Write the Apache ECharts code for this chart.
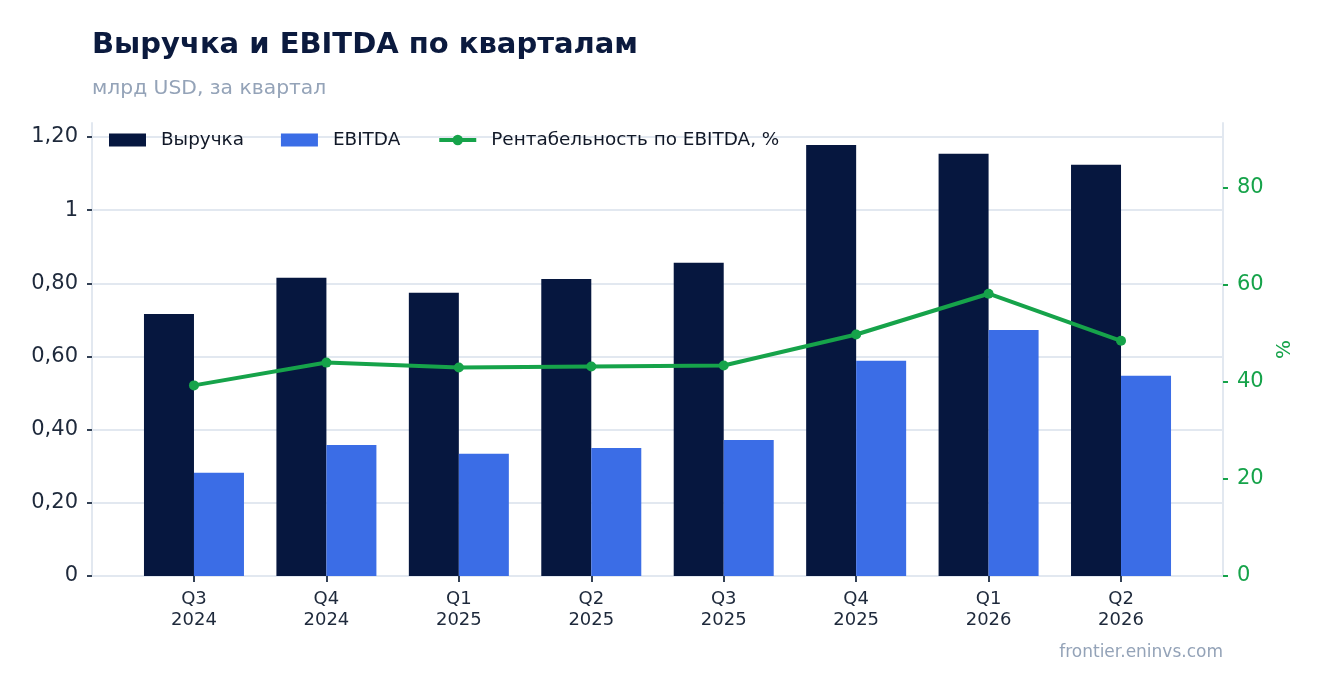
<!DOCTYPE html>
<html>
<head>
<meta charset="utf-8">
<script src="https://cdn.jsdelivr.net/npm/echarts@6/dist/echarts.min.js"></script>
<style>
html,body{margin:0;padding:0;background:#ffffff;}
#chart{width:1323px;height:693px;}
</style>
</head>
<body>
<div id="chart"></div>
<script>
const categories = ['Q3\n2024','Q4\n2024','Q1\n2025','Q2\n2025','Q3\n2025','Q4\n2025','Q1\n2026','Q2\n2026'];
const revenue = [0.716, 0.815, 0.774, 0.812, 0.856, 1.178, 1.154, 1.124];
const ebitda = [0.282, 0.358, 0.334, 0.350, 0.372, 0.588, 0.672, 0.547];
const margin = [39.3, 44.0, 43.0, 43.2, 43.4, 49.8, 58.2, 48.5];
const leftTicks = [0, 0.2, 0.4, 0.6, 0.8, 1, 1.2];
const leftTickLabels = ['0', '0,20', '0,40', '0,60', '0,80', '1', '1,20'];
const rightTicks = [0, 20, 40, 60, 80];
const catIdx = categories.map((c, i) => i);

const FONT = 'DejaVu Sans';
const GRID = '#e2e8f0';
const TXT = '#1e293b';
const GREEN = '#16a34a';

const chart = echarts.init(document.getElementById('chart'), null, {renderer: 'canvas'});
chart.setOption({
  backgroundColor: '#ffffff',
  textStyle: {fontFamily: FONT},
  title: [
    {text: 'Выручка и EBITDA по кварталам', left: 87, top: 26,
     textStyle: {fontFamily: FONT, fontSize: 29, fontWeight: 'bold', color: '#0b1a3e'}},
    {text: 'млрд USD, за квартал', left: 87, top: 74,
     textStyle: {fontFamily: FONT, fontSize: 20.3, fontWeight: 'normal', color: '#94a3b8'}}
  ],
  legend: {
    left: 104, top: 126, itemWidth: 37, itemHeight: 13, itemGap: 37,
    textStyle: {fontFamily: FONT, fontSize: 18.4, color: '#111827', padding: [0, 0, 0, 10]},
    data: [
      {name: 'Выручка', icon: 'rect'},
      {name: 'EBITDA', icon: 'rect'},
      {name: 'Рентабельность по EBITDA, %', lineStyle: {width: 4}}
    ]
  },
  grid: {left: 92, right: 100, top: 123, bottom: 117, containLabel: false},
  xAxis: {
    type: 'value', min: -0.77, max: 7.77,
    axisLine: {show: true, onZero: false, lineStyle: {color: GRID, width: 2}},
    axisTick: {show: true, customValues: catIdx, length: 6, lineStyle: {color: '#334155', width: 2}},
    axisLabel: {customValues: catIdx, margin: 13, fontFamily: FONT, fontSize: 18, color: TXT, lineHeight: 21,
      formatter: v => categories[Math.round(v)]},
    splitLine: {show: false}
  },
  yAxis: [
    {type: 'value', min: 0, max: 1.238, position: 'left',
     axisLine: {show: true, onZero: false, lineStyle: {color: GRID, width: 2}},
     axisTick: {show: true, customValues: leftTicks, length: 5, lineStyle: {color: '#334155', width: 2}},
     axisLabel: {customValues: leftTicks, margin: 14, fontFamily: FONT, fontSize: 21, color: TXT, padding: [5, 0, 0, 0],
       formatter: v => { const k = leftTicks.findIndex(t => Math.abs(t - v) < 1e-6); return k >= 0 ? leftTickLabels[k] : ''; }},
     splitLine: {show: true, lineStyle: {color: GRID, width: 2}}
    },
    {type: 'value', min: 0, max: 93.4, position: 'right',
     name: '%', nameLocation: 'middle', nameGap: 50, nameRotate: 90,
     nameTextStyle: {color: GREEN, fontFamily: FONT, fontSize: 20},
     axisLine: {show: true, onZero: false, lineStyle: {color: GRID, width: 2}},
     axisTick: {show: true, customValues: rightTicks, length: 5, lineStyle: {color: GREEN, width: 2}},
     axisLabel: {customValues: rightTicks, margin: 14, fontFamily: FONT, fontSize: 21, color: GREEN, padding: [5, 0, 0, 0]},
     splitLine: {show: false}
    }
  ],
  series: [
    {name: 'Выручка', type: 'bar', barWidth: 50, barGap: '0%',
     itemStyle: {color: '#06173f'},
     data: revenue.map((v, i) => [i, v])},
    {name: 'EBITDA', type: 'bar', barWidth: 50, barGap: '0%',
     itemStyle: {color: '#3b6de6'},
     data: ebitda.map((v, i) => [i, v])},
    {name: 'Рентабельность по EBITDA, %', type: 'line', yAxisIndex: 1,
     symbol: 'circle', symbolSize: 10,
     lineStyle: {color: GREEN, width: 4}, itemStyle: {color: GREEN},
     data: margin.map((v, i) => [i, v]), z: 5}
  ],
  graphic: [
    {type: 'text', right: 100, top: 644,
     style: {text: 'frontier.eninvs.com', fontFamily: FONT, fontSize: 17, fill: '#94a3b8'}}
  ]
});
</script>
</body>
</html>
